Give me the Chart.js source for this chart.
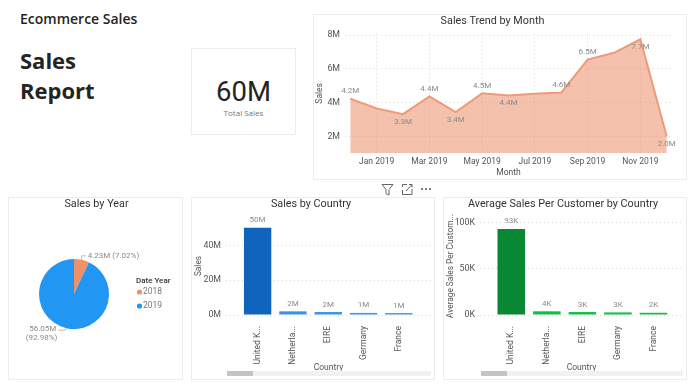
<!DOCTYPE html>
<html>
<head>
<meta charset="utf-8">
<script src="https://cdn.jsdelivr.net/npm/chart.js@4/dist/chart.umd.min.js"></script>
<style>
  html, body { margin: 0; padding: 0; background: #fff; overflow: hidden; }
  body { width: 689px; height: 385px; position: relative; font-family: "Open Sans", sans-serif; color: #252423; }
  .abs { position: absolute; white-space: nowrap; }
  .panel { position: absolute; border: 1px solid #ececec; box-sizing: border-box; }
  canvas { position: absolute; }
  .track { position: absolute; height: 5px; background: #f1f1f1; }
  .thumb { position: absolute; left: 0; top: 0; height: 5px; background: #c4c4c4; }
</style>
</head>
<body>
<div class="abs" style="left:20px;top:9px;font-size:14px;font-weight:600;line-height:20px">Ecommerce Sales</div>
<div class="abs" style="left:20px;top:45px;font-size:22px;font-weight:700;line-height:30px">Sales</div>
<div class="abs" style="left:20px;top:75px;font-size:22px;font-weight:700;line-height:30px">Report</div>

<div class="panel" style="left:191px;top:48px;width:105px;height:87px"></div>
<div class="abs" style="left:191px;width:105px;top:74px;text-align:center;font:27.5px/36px Roboto">60M</div>
<div class="abs" style="left:191px;width:105px;top:107px;text-align:center;font:8px/12px 'Open Sans';color:#777">Total Sales</div>

<div class="panel" style="left:313px;top:14px;width:374px;height:166px"></div>
<div class="panel" style="left:8px;top:197px;width:175px;height:183px"></div>
<div class="panel" style="left:191px;top:197px;width:244px;height:183px"></div>
<div class="panel" style="left:443px;top:197px;width:244px;height:183px"></div>

<canvas id="trendChart" width="374" height="165" style="left:313px;top:14px"></canvas>
<canvas id="yearChart" width="174" height="182" style="left:9px;top:197px"></canvas>
<canvas id="countryChart" width="243" height="182" style="left:191px;top:197px"></canvas>
<canvas id="avgChart" width="243" height="182" style="left:443px;top:197px"></canvas>

<div class="track" style="left:227px;top:371px;width:204px"><div class="thumb" style="width:26px"></div></div>
<div class="track" style="left:481px;top:371px;width:202px"><div class="thumb" style="width:26px"></div></div>

<svg class="abs" style="left:380px;top:183px" width="54" height="13" fill="none" stroke="#666" stroke-width="1">
  <path d="M2 1.5H13L9 6.5V12L6 10.5V6.5Z"/>
  <path d="M22.5 4V1.5H27M22.5 7V11.5H32V6M26 8L32 1.5M29 1.5H32V4.5"/>
  <circle cx="42" cy="6" r=".7" fill="#666"/><circle cx="46" cy="6" r=".7" fill="#666"/><circle cx="50" cy="6" r=".7" fill="#666"/>
</svg>

<script>
// sales by month, Dec 2018 - Dec 2019 (in millions)
const months = ['Dec 2018', 'Jan 2019', 'Feb 2019', 'Mar 2019', 'Apr 2019', 'May 2019', 'Jun 2019',
                'Jul 2019', 'Aug 2019', 'Sep 2019', 'Oct 2019', 'Nov 2019', 'Dec 2019'];
const monthSales = [4.23, 3.66, 3.32, 4.37, 3.44, 4.55, 4.43, 4.52, 4.6, 6.55, 6.95, 7.75, 1.99];
const monthLabels = ['4.2M', '', '3.3M', '4.4M', '3.4M', '4.5M', '4.4M', '', '4.6M', '6.5M', '', '7.7M', '2.0M'];
const monthLabelSide = [-1, 0, 1, -1, 1, -1, 1, 0, -1, -1, 0, 1, 1];
const monthTicks = [1, 3, 5, 7, 9, 11];
const salesTicks = [2, 4, 6, 8];

const years = ['2018', '2019'];
const yearSales = [4.23, 56.05];
const yearLabels = [['4.23M (7.02%)'], ['56.05M', '(92.98%)']];

const countries = ['United K...', 'Netherla...', 'EIRE', 'Germany', 'France'];
const countrySales = [50.1, 2.1, 1.7, 1.2, 1.1];
const countrySalesLabels = ['50M', '2M', '2M', '1M', '1M'];
const countrySalesTicks = [0, 20, 40];
const countryAvg = [93.5, 4, 3.2, 2.8, 2.4];
const countryAvgLabels = ['93K', '4K', '3K', '3K', '2K'];
const countryAvgTicks = [0, 50, 100];

const FONT = 'Roboto';
const TICK_COLOR = '#555';
const LABEL_COLOR = '#8a8a8a';
const TITLE_COLOR = '#333';
const TITLE_SIZE = 10.8;

Chart.defaults.font.family = FONT;
Chart.defaults.animation = false;
Chart.defaults.responsive = false;

const toPoints = values => values.map((v, i) => ({ x: i, y: v }));

function titleOpts(text, bottom) {
  return {
    display: true, text: text, color: TITLE_COLOR,
    font: { size: TITLE_SIZE, weight: 'normal', lineHeight: 14.4 / TITLE_SIZE },
    padding: { top: 0, bottom: bottom }
  };
}

// value labels above/below the marks
const valueLabels = {
  id: 'valueLabels',
  afterDatasetsDraw(chart, args, opts) {
    const c = chart.ctx;
    const points = chart.getDatasetMeta(0).data;
    c.save();
    c.font = '8px ' + FONT;
    c.fillStyle = LABEL_COLOR;
    c.textAlign = 'center';
    c.textBaseline = 'middle';
    points.forEach((p, i) => {
      if (!opts.texts[i]) return;
      const side = opts.sides ? opts.sides[i] : -1;
      c.fillText(opts.texts[i], p.x, p.y + side * 7.5);
    });
    c.restore();
  }
};

// pie title, callouts and legend
const pieExtras = {
  id: 'pieExtras',
  afterDatasetsDraw(chart) {
    const c = chart.ctx;
    const arcs = chart.getDatasetMeta(0).data;
    const mid = a => (a.startAngle + a.endAngle) / 2;
    c.save();
    c.textBaseline = 'middle';

    c.textAlign = 'center';
    c.fillStyle = TITLE_COLOR;
    c.font = TITLE_SIZE + 'px ' + FONT;
    c.fillText('Sales by Year', chart.width / 2 + 0.5, 7.2);

    c.strokeStyle = '#bbb';
    c.lineWidth = 1;
    c.font = '8px ' + FONT;
    c.fillStyle = LABEL_COLOR;

    // 2018 callout
    let a = arcs[0];
    let ex = a.x + Math.cos(mid(a)) * a.outerRadius;
    let ey = a.y + Math.sin(mid(a)) * a.outerRadius;
    c.beginPath();
    c.moveTo(ex, ey);
    c.lineTo(ex, ey - 4);
    c.lineTo(ex + 4, ey - 4);
    c.stroke();
    c.textAlign = 'left';
    c.fillText(yearLabels[0][0], ex + 6, ey - 4);

    // 2019 callout
    a = arcs[1];
    ex = a.x + Math.cos(mid(a)) * a.outerRadius;
    ey = a.y + Math.sin(mid(a)) * a.outerRadius;
    c.beginPath();
    c.moveTo(ex, ey);
    c.lineTo(ex - 1, ey + 2);
    c.lineTo(ex - 8, ey + 2);
    c.stroke();
    c.textAlign = 'right';
    c.fillText(yearLabels[1][0], ex - 10, ey + 1);
    c.fillText(yearLabels[1][1], ex - 9, ey + 9.5);

    // legend
    c.textAlign = 'left';
    c.fillStyle = TITLE_COLOR;
    c.font = '500 8px ' + FONT;
    c.fillText('Date Year', 127, 83.5);
    c.font = '8.5px ' + FONT;
    chart.data.labels.forEach((label, i) => {
      const y = 95 + i * 14;
      c.fillStyle = chart.data.datasets[0].backgroundColor[i];
      c.beginPath();
      c.arc(130.5, y, 2.6, 0, Math.PI * 2);
      c.fill();
      c.fillStyle = '#777';
      c.fillText(label, 134, y);
    });
    c.restore();
  }
};

new Chart(document.getElementById('trendChart'), {
  type: 'line',
  data: {
    datasets: [{
      label: 'Sales',
      data: toPoints(monthSales),
      borderColor: '#ef9a78',
      borderWidth: 2,
      backgroundColor: 'rgba(233,132,90,0.5)',
      fill: 'start',
      tension: 0,
      pointRadius: 0
    }]
  },
  plugins: [valueLabels],
  options: {
    layout: { padding: { top: 0, right: 15, bottom: 0, left: 0 } },
    plugins: {
      legend: { display: false },
      tooltip: { enabled: false },
      title: titleOpts('Sales Trend by Month', 5),
      valueLabels: { texts: monthLabels, sides: monthLabelSide }
    },
    scales: {
      x: {
        type: 'linear', min: -0.2, max: 12.2, bounds: 'data',
        afterBuildTicks: s => { s.ticks = monthTicks.map(v => ({ value: v })); },
        afterFit: s => { s.height = 25.7; },
        grid: { color: '#d9d9d9', drawTicks: false },
        border: { display: false, dash: [1, 3] },
        ticks: {
          autoSkip: false, maxRotation: 0, padding: 3, color: TICK_COLOR, font: { size: 8.5 },
          callback: v => months[v]
        },
        title: { display: true, text: 'Month', color: TICK_COLOR, font: { size: 8.5 }, padding: { top: 0, bottom: 1 } }
      },
      y: {
        min: 1, max: 8.1, bounds: 'data',
        afterBuildTicks: s => { s.ticks = salesTicks.map(v => ({ value: v })); },
        afterFit: s => { s.width = 32; },
        grid: { color: '#d9d9d9', drawTicks: false },
        border: { display: false, dash: [1, 3] },
        ticks: { padding: 5, color: TICK_COLOR, font: { size: 8.8 }, callback: v => v + 'M' },
        title: { display: true, text: 'Sales', color: TICK_COLOR, font: { size: 8.5 }, padding: { top: 2, bottom: 0 } }
      }
    }
  }
});

new Chart(document.getElementById('yearChart'), {
  type: 'pie',
  data: {
    labels: years,
    datasets: [{ data: yearSales, backgroundColor: ['#ee9168', '#2196f3'], borderWidth: 0 }]
  },
  plugins: [pieExtras],
  options: {
    radius: 35,
    layout: { padding: { top: 12, right: 44, bottom: 0, left: 0 } },
    plugins: {
      legend: { display: false },
      tooltip: { enabled: false }
    }
  }
});

function countryChart(id, title, values, texts, ticks, suffix, yMax, yTitle, colors, xMin, xMax, yWidth) {
  return new Chart(document.getElementById(id), {
    type: 'bar',
    data: {
      datasets: [{
        label: yTitle,
        data: toPoints(values),
        backgroundColor: colors,
        categoryPercentage: 1,
        barPercentage: 0.775
      }]
    },
    plugins: [valueLabels],
    options: {
      layout: { padding: { top: 0, right: 3, bottom: 0, left: 0 } },
      plugins: {
        legend: { display: false },
        tooltip: { enabled: false },
        title: titleOpts(title, 5.6),
        valueLabels: { texts: texts }
      },
      scales: {
        x: {
          type: 'linear', offset: false, min: xMin, max: xMax, bounds: 'data',
          afterBuildTicks: s => { s.ticks = countries.map((c, i) => ({ value: i })); },
          afterFit: s => { s.height = 64; },
          grid: { display: false },
          border: { display: false },
          ticks: {
            autoSkip: false, minRotation: 90, maxRotation: 90, padding: 3, color: TICK_COLOR, font: { size: 8.5 },
            callback: v => countries[v]
          },
          title: { display: true, text: 'Country', color: TICK_COLOR, font: { size: 8.5 }, padding: { top: 0, bottom: 6 } }
        },
        y: {
          min: 0, max: yMax, bounds: 'data',
          afterBuildTicks: s => { s.ticks = ticks.map(v => ({ value: v })); },
          afterFit: s => { s.width = yWidth; },
          grid: { color: '#d9d9d9', drawTicks: false },
          border: { display: false, dash: [1, 3] },
          ticks: { padding: 5, color: TICK_COLOR, font: { size: 8.8 }, callback: v => v + suffix },
          title: { display: true, text: yTitle, color: TICK_COLOR, font: { size: 8.3 }, padding: { top: 3, bottom: 0 } }
        }
      }
    }
  });
}

countryChart('countryChart', 'Sales by Country', countrySales, countrySalesLabels, countrySalesTicks, 'M',
  56.3, 'Sales', ['#0f64bd', '#3a93ea', '#3a93ea', '#3a93ea', '#3a93ea'], -0.895, 4.91, 35);
countryChart('avgChart', 'Average Sales Per Customer by Country', countryAvg, countryAvgLabels, countryAvgTicks, 'K',
  106.4, 'Average Sales Per Custom...', ['#0a8732', '#12bd45', '#12bd45', '#12bd45', '#12bd45'], -0.88, 4.83, 37);
</script>
</body>
</html>
